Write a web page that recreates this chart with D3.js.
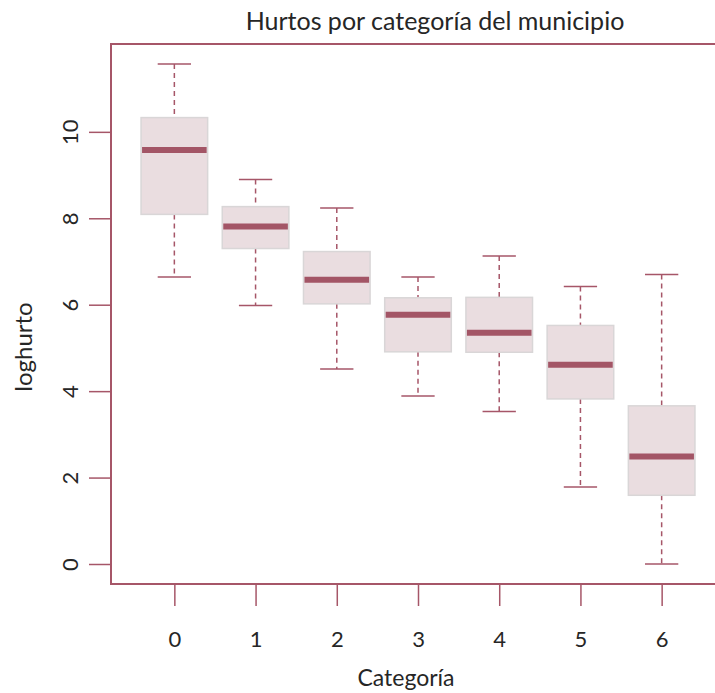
<!DOCTYPE html>
<html>
<head>
<meta charset="utf-8">
<script src="https://cdn.jsdelivr.net/npm/d3@7"></script>
<style>
  body { margin: 0; background: #fff; }
  svg { display: block; font-family: Lato, "Open Sans", sans-serif; }
</style>
</head>
<body>
<div id="chart"></div>
<script>
// Data
const categories = ['0', '1', '2', '3', '4', '5', '6'];
const lowWhisker = [6.64, 5.98, 4.51, 3.89, 3.53, 1.78, 0.0];
const q1 = [8.09, 7.30, 6.02, 4.91, 4.90, 3.82, 1.59];
const median = [9.58, 7.81, 6.58, 5.77, 5.35, 4.61, 2.49];
const q3 = [10.33, 8.27, 7.23, 6.16, 6.17, 5.52, 3.66];
const highWhisker = [11.57, 8.90, 8.24, 6.64, 7.13, 6.42, 6.70];
const yTicks = [0, 2, 4, 6, 8, 10];

const width = 715, height = 693;
const margin = { left: 111, top: 44, right: -10, bottom: 109 };
const accent = '#a65668';
const textColor = '#262626';

const boxes = categories.map((c, i) => ({
  cat: c, pos: i + 1,
  lo: lowWhisker[i], q1: q1[i], med: median[i], q3: q3[i], hi: highWhisker[i]
}));

const svg = d3.select('#chart')
  .append('svg')
  .attr('width', width)
  .attr('height', height);

// R style: range extended by 4% on each side
const n = categories.length;
const xPad = 0.04 * n;
const xScale = d3.scaleLinear()
  .domain([0.5 - xPad, n + 0.5 + xPad])
  .range([margin.left, width - margin.right]);

const yMin = d3.min(lowWhisker), yMax = d3.max(highWhisker);
const yPad = 0.04 * (yMax - yMin);
const yScale = d3.scaleLinear()
  .domain([yMin - yPad, yMax + yPad])
  .range([height - margin.bottom, margin.top]);

const unit = xScale(2) - xScale(1);
const boxW = unit * 0.82;
const capW = boxW / 2;

const g = svg.append('g');

// Whiskers
g.selectAll('.whisker')
  .data(boxes)
  .enter()
  .append('g')
  .attr('class', 'whisker')
  .each(function(d) {
    const el = d3.select(this);
    const cx = xScale(d.pos);
    el.append('line')
      .attr('x1', cx).attr('x2', cx)
      .attr('y1', yScale(d.hi)).attr('y2', yScale(d.q3))
      .attr('stroke', accent).attr('stroke-width', 1.5)
      .attr('stroke-dasharray', '5,4');
    el.append('line')
      .attr('x1', cx).attr('x2', cx)
      .attr('y1', yScale(d.q1)).attr('y2', yScale(d.lo))
      .attr('stroke', accent).attr('stroke-width', 1.5)
      .attr('stroke-dasharray', '5,4');
    [d.hi, d.lo].forEach((v) => {
      el.append('line')
        .attr('x1', cx - capW / 2).attr('x2', cx + capW / 2)
        .attr('y1', yScale(v)).attr('y2', yScale(v))
        .attr('stroke', accent).attr('stroke-width', 1.5);
    });
  });

// Boxes
g.selectAll('.box')
  .data(boxes)
  .enter()
  .append('rect')
  .attr('class', 'box')
  .attr('x', (d) => xScale(d.pos) - boxW / 2)
  .attr('width', boxW)
  .attr('y', (d) => yScale(d.q3))
  .attr('height', (d) => yScale(d.q1) - yScale(d.q3))
  .attr('fill', '#eadde0')
  .attr('stroke', '#d9d6d7')
  .attr('stroke-width', 1.5);

// Medians
g.selectAll('.median')
  .data(boxes)
  .enter()
  .append('line')
  .attr('class', 'median')
  .attr('x1', (d) => xScale(d.pos) - boxW / 2 + 1)
  .attr('x2', (d) => xScale(d.pos) + boxW / 2 - 1)
  .attr('y1', (d) => yScale(d.med))
  .attr('y2', (d) => yScale(d.med))
  .attr('stroke', '#a35566')
  .attr('stroke-width', 6);

// Frame
svg.append('rect')
  .attr('x', margin.left)
  .attr('y', margin.top)
  .attr('width', xScale.range()[1] - margin.left)
  .attr('height', yScale.range()[0] - margin.top)
  .attr('fill', 'none')
  .attr('stroke', accent)
  .attr('stroke-width', 2);

// y-axis
const yAxis = svg.append('g')
  .attr('transform', 'translate(' + margin.left + ',0)')
  .call(d3.axisLeft(yScale).tickValues(yTicks).tickSize(22).tickFormat(d3.format('d')))
  .attr('font-family', null);
yAxis.select('.domain').remove();
yAxis.selectAll('.tick line').attr('stroke', accent).attr('stroke-width', 1.5);
yAxis.selectAll('.tick text')
  .attr('x', null).attr('dy', null)
  .attr('text-anchor', 'middle')
  .attr('transform', 'translate(-33,0) rotate(-90)')
  .attr('fill', textColor)
  .style('font-size', '22px');

// x-axis
const xAxis = svg.append('g')
  .attr('transform', 'translate(0,' + yScale.range()[0] + ')')
  .call(d3.axisBottom(xScale).tickValues(boxes.map((d) => d.pos))
    .tickSize(22).tickPadding(25).tickFormat((v) => categories[v - 1]))
  .attr('font-family', null);
xAxis.select('.domain').remove();
xAxis.selectAll('.tick line').attr('stroke', accent).attr('stroke-width', 1.5);
xAxis.selectAll('.tick text')
  .attr('fill', textColor)
  .style('font-size', '22px');

// Title and axis labels
svg.append('text')
  .attr('x', 435).attr('y', 30)
  .attr('text-anchor', 'middle')
  .attr('fill', textColor)
  .style('font-size', '25px')
  .text('Hurtos por categoría del municipio');

svg.append('text')
  .attr('x', 406).attr('y', 686)
  .attr('text-anchor', 'middle')
  .attr('fill', textColor)
  .style('font-size', '23px')
  .text('Categoría');

svg.append('text')
  .attr('transform', 'translate(32,' + 347 + ') rotate(-90)')
  .attr('text-anchor', 'middle')
  .attr('fill', textColor)
  .style('font-size', '24px')
  .text('loghurto');
</script>
</body>
</html>
